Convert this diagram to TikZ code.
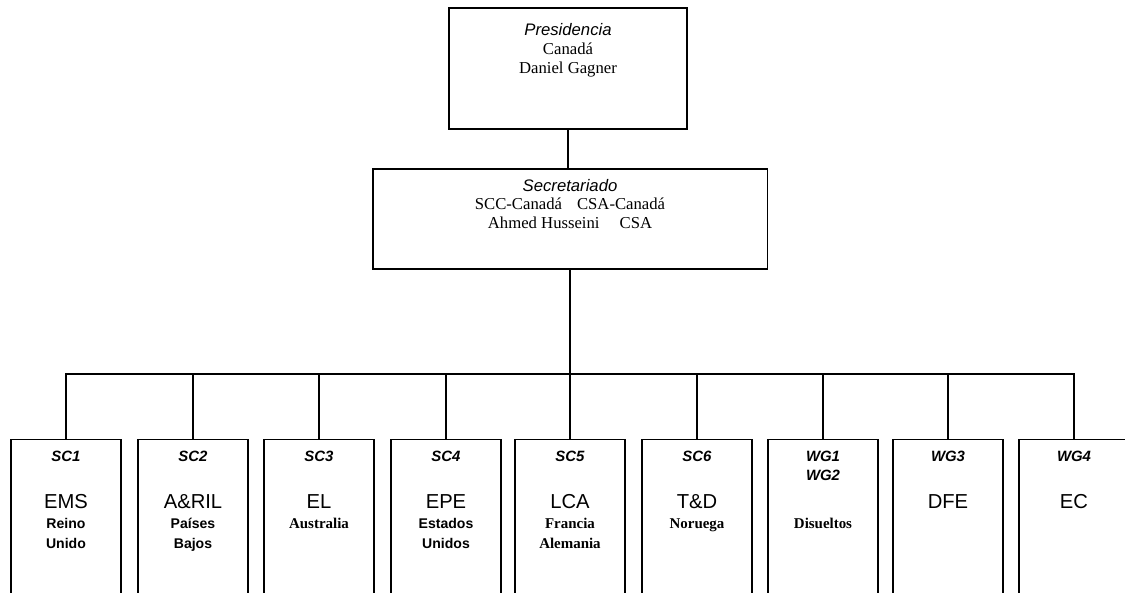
\documentclass[tikz,border=0pt]{standalone}
\usepackage{fontspec}
\setmainfont{Liberation Serif}
\setsansfont{Liberation Sans}

\begin{document}
\begin{tikzpicture}[x=0.02cm, y=-0.02cm, line width=1.1pt,
  box/.style={draw, rectangle, inner sep=0pt},
  toptext/.style={font=\fontsize{9.5}{11}\selectfont, anchor=base},
  topital/.style={font=\sffamily\itshape\fontsize{9.5}{11}\selectfont, anchor=base},
  grphead/.style={font=\sffamily\bfseries\itshape\fontsize{8.5}{11}\selectfont, anchor=base},
  grpname/.style={font=\sffamily\fontsize{11.5}{13}\selectfont, anchor=base},
  grpsans/.style={font=\sffamily\bfseries\fontsize{8}{11}\selectfont, anchor=base},
  grpserif/.style={font=\bfseries\fontsize{8.5}{11}\selectfont, anchor=base}]
  \useasboundingbox (0,0) rectangle (1125,592);
  \clip (0,0) rectangle (1125,592);

  % Top: Presidencia
  \node[box, minimum width=4.76cm, minimum height=2.42cm] (pres) at (568,68.5) {};
  \node[topital] (presA) at (568,35) {Presidencia};
  \node[toptext] (presB) at (568,54) {Canadá};
  \node[toptext] (presC) at (568,73) {Daniel Gagner};

  % Middle: Secretariado
  \node[box, minimum width=7.9cm, minimum height=2cm] (sec) at (570,219) {};
  \node[topital] (secA) at (570,191) {Secretariado};
  \node[toptext] (secB) at (570,209) {SCC-Canadá\hspace{0.9em}CSA-Canadá};
  \node[toptext] (secC) at (570,228) {Ahmed Husseini\hspace{1.2em}CSA};
  \draw (pres.south) -- (pres.south |- sec.north);

  % Bottom: comites y grupos de trabajo
  \foreach \n/\xc/\head/\name/\landA/\landB/\lf in {
      1/66/SC1/EMS/Reino/Unido/grpsans,
      2/193/SC2/A\&RIL/Países/Bajos/grpsans,
      3/319/SC3/EL/Australia//grpserif,
      4/446/SC4/EPE/Estados/Unidos/grpsans,
      5/570/SC5/LCA/Francia/Alemania/grpserif,
      6/697/SC6/T\&D/Noruega//grpserif,
      7/823/WG1//Disueltos//grpserif,
      8/948/WG3/DFE///grpserif,
      9/1074/WG4/EC///grpserif}
  {
    \node[box, minimum width=2.2cm, minimum height=3.3cm] (b\n) at (\xc,522) {};
    \node[grphead] (h\n) at (\xc,461) {\head};
    \node[grpname] (m\n) at (\xc,508) {\name};
    \node[\lf] (l\n) at (\xc,528) {\landA};
    \node[\lf] (k\n) at (\xc,548) {\landB};
  }
  \node[grphead] (h7b) at (823,480) {WG2};

  \coordinate (bus) at (570,374);
  \draw (sec.south) -- (sec.south |- bus);
  \draw (b1.north) -- (b1.north |- bus) -- (b9.north |- bus) -- (b9.north);
  \foreach \n in {2,...,8}
    \draw (b\n.north) -- (b\n.north |- bus);
\end{tikzpicture}
\end{document}
